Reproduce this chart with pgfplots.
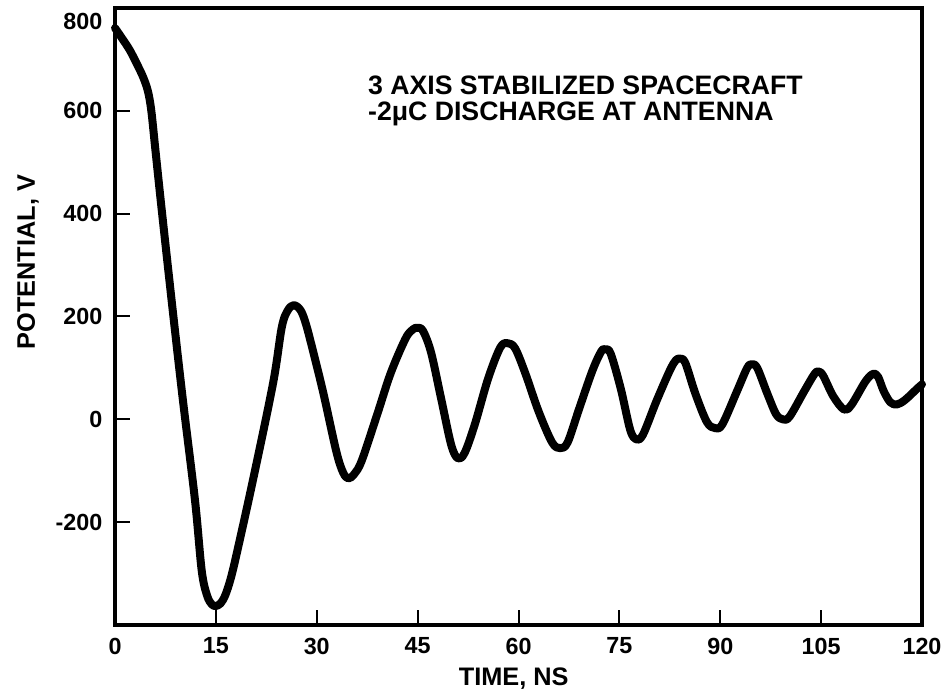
\documentclass[border=0pt]{standalone}
\usepackage{fontspec}
\setmainfont{Liberation Sans}
\usepackage{pgfplots}
\pgfplotsset{compat=1.18}
\begin{document}
\begin{tikzpicture}
\begin{axis}[
  scale only axis,
  width=605.25pt, height=462.75pt,
  xmin=0, xmax=120, ymin=-400, ymax=800,
  xtick={0,15,...,120},
  ytick={-200,0,200,400,600},
  extra y ticks={800},
  extra y tick style={yticklabel style={yshift=-10pt}},
  xtick pos=bottom, ytick pos=left,
  tick align=inside,
  major tick length=11pt,
  every tick/.style={line width=1.5pt, black},
  axis line style={line width=3pt},
  /pgf/number format/assume math mode=true,
  ticklabel style={font=\fontsize{17.5}{20}\selectfont\bfseries},
  xticklabel style={yshift=-6pt},
  yticklabel style={xshift=-6pt},
  xlabel={TIME, NS},
  ylabel={POTENTIAL, V},
  label style={font=\fontsize{19}{22}\selectfont\bfseries},
  xlabel style={at={(axis description cs:0.494,0)}, anchor=center, yshift=-40pt},
  ylabel style={at={(axis description cs:-0.1078,0.588)}, anchor=center},
  clip=false,
]
\addplot[black, line width=6pt, smooth, tension=0.55, line cap=round, line join=round] coordinates {
(0,761) (1,742) (2.2,718) (3.3,690) (4.2,665) (4.9,638) (5.4,600) (6,525)
(7,401) (8.6,210) (10.1,37) (11.9,-158) (12.9,-295) (13.7,-343) (14.4,-360) (15,-363) (15.7,-358)
(16.4,-342) (17.2,-310) (18.1,-261)
(20.5,-119) (23.5,70) (24.8,179) (25.7,212) (26.6,222) (27.6,212)
(28.4,185) (29.5,130) (31,50) (32.9,-62) (33.9,-103) (34.7,-115) (35.6,-106) (36.7,-80) (39,10) (41,90) (43.2,157)
(44.3,175) (45,178) (45.8,172) (47,130) (48.5,40) (50,-50) (51,-76) (52,-65) (53.5,-10)
(55.5,80) (57.3,140) (58.4,148) (59.5,138) (61,90) (63,15) (65,-45) (66.2,-56) (67.3,-45)
(69,20) (71,95) (72.3,132) (72.9,136) (73.7,128) (75.2,60) (76.6,-20) (77.5,-39) (78.5,-30)
(80.5,35) (82.5,95) (83.4,115) (84,118) (84.8,110) (86.3,50) (88,-5) (89.2,-17) (90.3,-10)
(92.5,55) (94,100) (94.7,107) (95.5,100) (97,50) (98.3,10) (99.3,0) (100.3,5)
(102.5,55) (104,88) (104.6,93) (105.3,85) (106.8,45) (108.4,19) (109.5,28)
(111.5,72) (112.5,87) (112.9,89) (113.5,82) (114.3,55) (115.3,33) (116.3,29) (117.5,38) (119.3,60) (120,68)
};
\node[anchor=base west, font=\fontsize{20}{22}\selectfont\bfseries, inner sep=0pt] at (axis cs:37.6,631) {3 AXIS STABILIZED SPACECRAFT};
\node[anchor=base west, font=\fontsize{20}{22}\selectfont\bfseries, inner sep=0pt] at (axis cs:37.6,582) {-2μC DISCHARGE AT ANTENNA};
\coordinate (O) at (rel axis cs:0,0);
\end{axis}
\pgfresetboundingbox
\path[use as bounding box] (O) ++(-86.25pt,-54.75pt) rectangle ++(714pt,523.5pt);
\end{tikzpicture}
\end{document}
